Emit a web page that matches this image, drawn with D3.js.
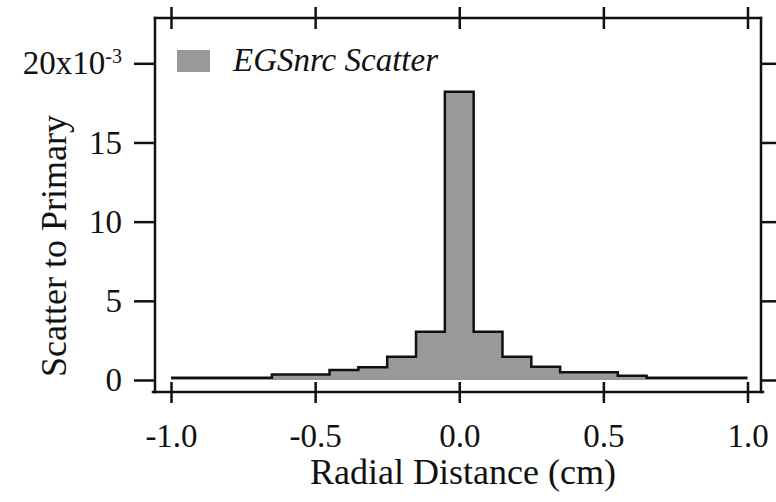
<!DOCTYPE html>
<html>
<head>
<meta charset="utf-8">
<script src="https://cdn.jsdelivr.net/npm/d3@7"></script>
<style>
body { margin: 0; background: #fff; }
</style>
</head>
<body>
<div id="chart"></div>
<script>
// DATA
var binEdges = [-1.0, -0.65, -0.45, -0.35, -0.25, -0.15, -0.05, 0.05, 0.15, 0.25, 0.35, 0.55, 0.65, 1.0];
var scatterValues = [0.15, 0.34, 0.63, 0.80, 1.47, 3.05, 18.2, 3.05, 1.47, 0.84, 0.49, 0.27, 0.15]; // x10^-3
var xTicks = [-1.0, -0.5, 0.0, 0.5, 1.0];
var yTicks = [0, 5, 10, 15, 20];
var seriesName = "EGSnrc Scatter";
var xTitle = "Radial Distance (cm)";
var yTitle = "Scatter to Primary";

// LAYOUT
var width = 776, height = 502;
var frame = { left: 155, right: 761, top: 18, bottom: 392 };
var strokeW = 2.5;
var serif = "'Liberation Serif', 'Times New Roman', 'DejaVu Serif', serif";

var x = d3.scaleLinear().domain([-1, 1]).range([171, 747.5]);
var y = d3.scaleLinear().domain([0, 20]).range([380, 63.3]);

var svg = d3.select("#chart").append("svg")
	.attr("width", width)
	.attr("height", height);

// HISTOGRAM (steps, filled to zero)
var stepData = binEdges.map(function (e, i) {
	return { x: e, v: scatterValues[Math.min(i, scatterValues.length - 1)] };
});

var area = d3.area()
	.x(function (d) { return x(d.x); })
	.y0(y(0))
	.y1(function (d) { return y(d.v); })
	.curve(d3.curveStepAfter);

var line = d3.line()
	.x(function (d) { return x(d.x); })
	.y(function (d) { return y(d.v); })
	.curve(d3.curveStepAfter);

svg.append("path")
	.datum(stepData)
	.attr("d", area)
	.attr("fill", "#999999");

svg.append("path")
	.datum(stepData)
	.attr("d", line)
	.attr("fill", "none")
	.attr("stroke", "#111")
	.attr("stroke-width", strokeW);

// AXES
var leftAxis = svg.append("g")
	.attr("transform", "translate(" + frame.left + ",0)")
	.call(d3.axisLeft(y).tickValues(yTicks).tickSize(21).tickSizeOuter(0).tickPadding(12));

leftAxis.selectAll(".tick text")
	.filter(function (d) { return d === 20; })
	.text("20x10")
	.append("tspan")
	.attr("dy", "-0.55em")
	.style("font-size", "20px")
	.text("-3");

var rightAxis = svg.append("g")
	.attr("transform", "translate(" + frame.right + ",0)")
	.call(d3.axisRight(y).tickValues(yTicks).tickSize(21).tickSizeOuter(0).tickFormat(""));

var bottomAxis = svg.append("g")
	.attr("transform", "translate(0," + frame.bottom + ")")
	.call(d3.axisBottom(x).tickValues(xTicks).tickSizeOuter(0)
		.tickFormat(function (d) { return d.toFixed(1); }));

bottomAxis.selectAll(".tick line").attr("y1", -10).attr("y2", 11);
bottomAxis.selectAll(".tick text").attr("y", 32);

var topAxis = svg.append("g")
	.attr("transform", "translate(0," + frame.top + ")")
	.call(d3.axisTop(x).tickValues(xTicks).tickSizeOuter(0).tickFormat(""));

topAxis.selectAll(".tick line").attr("y1", -11).attr("y2", 11);

svg.selectAll(".domain").remove();
svg.selectAll(".tick line").attr("stroke", "#111").attr("stroke-width", strokeW);
svg.selectAll(".tick text")
	.style("font-size", "33px")
	.attr("fill", "#111");

// FRAME LINES
var frameLines = [
	[frame.left, frame.top, frame.right, frame.top],
	[frame.left - 2, frame.bottom, frame.right + 2, frame.bottom],
	[frame.left, frame.top, frame.left, frame.bottom],
	[frame.right, frame.top, frame.right, frame.bottom]
];
svg.selectAll(".frame")
	.data(frameLines)
	.enter().append("line")
	.attr("class", "frame")
	.attr("x1", function (d) { return d[0]; })
	.attr("y1", function (d) { return d[1]; })
	.attr("x2", function (d) { return d[2]; })
	.attr("y2", function (d) { return d[3]; })
	.attr("stroke", "#111")
	.attr("stroke-width", strokeW)
	.attr("stroke-linecap", "square");

// TITLES
svg.append("text")
	.attr("x", 463)
	.attr("y", 484)
	.attr("text-anchor", "middle")
	.style("font-size", "36px")
	.text(xTitle);

svg.append("text")
	.attr("transform", "translate(66,246) rotate(-90)")
	.attr("text-anchor", "middle")
	.style("font-size", "36px")
	.text(yTitle);

// LEGEND
svg.append("rect")
	.attr("x", 177)
	.attr("y", 50)
	.attr("width", 33)
	.attr("height", 22)
	.attr("fill", "#999999");

svg.append("text")
	.attr("x", 233)
	.attr("y", 71)
	.style("font-size", "33px")
	.style("font-style", "italic")
	.text(seriesName);

svg.selectAll("text")
	.style("font-family", serif)
	.attr("fill", "#111");
</script>
</body>
</html>
